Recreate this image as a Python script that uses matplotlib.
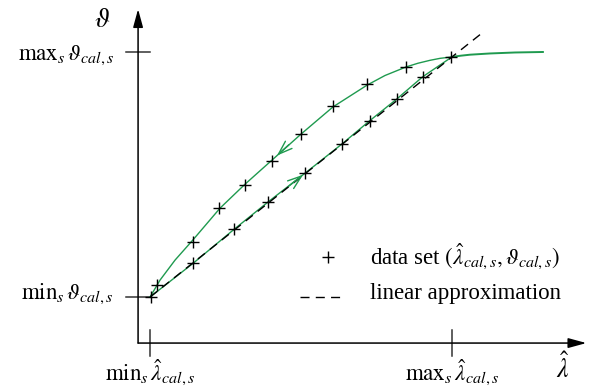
import matplotlib
matplotlib.use("Agg")
import matplotlib.pyplot as plt

plt.rcParams['font.family'] = ['Liberation Serif', 'DejaVu Serif']
plt.rcParams['mathtext.fontset'] = 'stix'
plt.rcParams['lines.scale_dashes'] = False

# data set markers (normalised: min -> 0, max -> 1)
up_x = [0.022, 0.143, 0.229, 0.315, 0.403, 0.499, 0.607, 0.718, 0.848, 0.997]
up_y = [0.049, 0.226, 0.362, 0.457, 0.555, 0.664, 0.780, 0.868, 0.940, 0.981]
low_x = [0.002, 0.143, 0.278, 0.392, 0.513, 0.635, 0.728, 0.817, 0.903]
low_y = [0.001, 0.138, 0.276, 0.389, 0.505, 0.624, 0.720, 0.808, 0.899]

# green hysteresis curve
curve_up_x = [0.0, 0.033, 0.083, 0.142, 0.232, 0.315, 0.404, 0.500, 0.606, 0.719,
              0.778, 0.848, 0.887, 0.927, 0.960, 1.0]
curve_up_y = [0.0, 0.069, 0.151, 0.233, 0.363, 0.461, 0.559, 0.665, 0.776, 0.865,
              0.904, 0.939, 0.954, 0.966, 0.974, 0.980]
curve_low_x = [0.0, 0.143, 0.278, 0.392, 0.513, 0.635, 0.728, 0.817, 0.903, 1.0]
curve_low_y = [0.0, 0.138, 0.276, 0.389, 0.505, 0.624, 0.720, 0.808, 0.899, 0.980]
tail_x = [1.0, 1.030, 1.060, 1.126, 1.209, 1.301]
tail_y = [0.980, 0.985, 0.989, 0.994, 0.998, 1.0]

# linear approximation
lin_x = [0.0, 1.098]
lin_y = [0.0, 1.076]

green = '#1f9a4f'
axcol = '#333333'

fig = plt.figure(figsize=(5.9, 3.89), dpi=100)
ax = fig.add_axes([0, 0, 1, 1])
ax.set_xlim(-0.497, 1.457)
ax.set_ylim(-0.3755, 1.2122)
ax.axis('off')

# axes with arrows
x0, y0 = -0.0397, -0.188
ax.annotate('', xy=(1.445, y0), xytext=(x0, y0),
            arrowprops=dict(arrowstyle='-|>,head_length=1.1,head_width=0.3', color='black', lw=1.1,
                            shrinkA=0, shrinkB=0))
ax.annotate('', xy=(x0, 1.175), xytext=(x0, y0),
            arrowprops=dict(arrowstyle='-|>,head_length=1.1,head_width=0.3', color='black', lw=1.1,
                            shrinkA=0, shrinkB=0))

# ticks
for yv in [0.0, 1.0]:
    ax.plot([-0.08, 0.0], [yv, yv], color=axcol, lw=1.1)
for xv in [0.0, 1.0]:
    ax.plot([xv, xv], [-0.24, -0.135], color=axcol, lw=1.1)

# curves
ax.plot(curve_up_x, curve_up_y, color=green, lw=1.0)
ax.plot(curve_low_x, curve_low_y, color=green, lw=1.0)
ax.plot(tail_x, tail_y, color=green, lw=1.4)
ax.plot(lin_x, lin_y, color='black', lw=1.0, dashes=(6.5, 4.5))

# direction arrows
arr = dict(arrowstyle='->,head_length=1.0,head_width=0.35', color=green, lw=1.0, shrinkA=0, shrinkB=0)
ax.annotate('', xy=(0.42, 0.577), xytext=(0.46, 0.622), arrowprops=arr)
ax.annotate('', xy=(0.507, 0.499), xytext=(0.46, 0.453), arrowprops=arr)

ax.plot(up_x, up_y, '+', color='black', ms=9, mew=1.0)
ax.plot(low_x, low_y, '+', color='black', ms=9, mew=1.0)

fs = 16.5
ax.text(-0.12, 0.985, r'$\mathrm{max}_s\,\vartheta_{cal,s}$', ha='right', va='center', fontsize=fs)
ax.text(-0.12, 0.015, r'$\mathrm{min}_s\,\vartheta_{cal,s}$', ha='right', va='center', fontsize=fs)
ax.text(0.0, -0.31, r'$\mathrm{min}_s\,\hat{\lambda}_{cal,s}$', ha='center', va='center', fontsize=fs)
ax.text(1.0, -0.31, r'$\mathrm{max}_s\,\hat{\lambda}_{cal,s}$', ha='center', va='center', fontsize=fs)
ax.text(1.368, -0.29, r'$\hat{\lambda}$', ha='center', va='center', fontsize=fs + 2)
ax.text(-0.16, 1.13, r'$\vartheta$', ha='center', va='center', fontsize=fs + 3)

# legend
ax.plot([0.589], [0.163], '+', color='black', ms=9, mew=1.0)
ax.text(0.728, 0.163, r'data set $(\hat{\lambda}_{cal,s},\vartheta_{cal,s})$', ha='left', va='center', fontsize=fs)
ax.plot([0.497, 0.646], [0.0, 0.0], color='black', lw=1.0, dashes=(6.5, 4.5))
ax.text(0.728, 0.015, 'linear approximation', ha='left', va='center', fontsize=fs)

fig.savefig('out.png', dpi=100)
